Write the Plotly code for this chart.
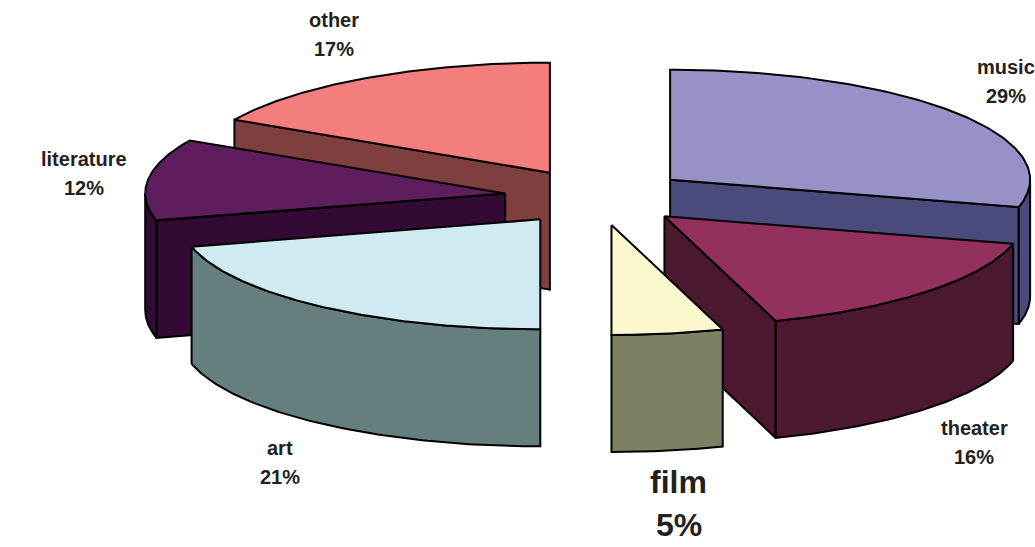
import numpy as np
import plotly.graph_objects as go

# ---- data ----
categories = ["music", "theater", "film", "art", "literature", "other"]
shares = [29, 16, 5, 21, 12, 17]

# ---- style ----
top_colors = ["#9692C8", "#93305E", "#FBF8CE", "#CFEAF0", "#5E1E5E", "#F47D7D"]
side_colors = ["#4A4A7C", "#4B1830", "#7F7F63", "#657F7F", "#330A33", "#7F3F3F"]
label_sizes = [20, 20, 32, 20, 20, 20]

W, H = 1035, 547
CX, CY = 597, 197          # pie centre on screen
RX, RY = 360, 110          # ellipse radii of the top face
DEPTH = 117                # thickness
PULL = 0.257               # explosion (fraction of radius)
LX, LY = 425, 160          # label distance
TEXT_COLOR = "#231F20"
FONT = "Liberation Sans, Arial, sans-serif"

total = float(sum(shares))
fig = go.Figure()


def poly(xs, ys, fill):
    xs = list(xs) + [xs[0]]
    ys = list(ys) + [ys[0]]
    fig.add_trace(go.Scatter(x=xs, y=ys, mode="lines", fill="toself",
                             fillcolor=fill, line=dict(color="black", width=2),
                             hoverinfo="skip", showlegend=False))


slices = []
acc = 0.0
for i, s in enumerate(shares):
    a1 = acc / total * 360.0
    acc += s
    a2 = acc / total * 360.0
    m = np.radians((a1 + a2) / 2)
    vx = CX + PULL * RX * np.sin(m)
    vy = CY - PULL * RY * np.cos(m)
    slices.append(dict(i=i, a1=a1, a2=a2, m=m, vx=vx, vy=vy))


def pt(sl, deg):
    t = np.radians(deg)
    return sl["vx"] + RX * np.sin(t), sl["vy"] - RY * np.cos(t)


# draw back to front
for sl in sorted(slices, key=lambda d: d["vy"]):
    i = sl["i"]
    a1, a2 = sl["a1"], sl["a2"]
    vx, vy = sl["vx"], sl["vy"]
    side = side_colors[i]
    # radial cut faces
    if np.sin(np.radians(a1)) < -1e-6:
        px, py = pt(sl, a1)
        poly([vx, px, px, vx], [vy, py, py + DEPTH, vy + DEPTH], side)
    if np.sin(np.radians(a2)) > 1e-6:
        px, py = pt(sl, a2)
        poly([vx, px, px, vx], [vy, py, py + DEPTH, vy + DEPTH], side)
    # outer curved side (front half only)
    lo, hi = max(a1, 90.0), min(a2, 270.0)
    if hi > lo:
        th = np.linspace(lo, hi, 80)
        xs, ys = pt(sl, th)
        poly(list(xs) + list(xs[::-1]), list(ys) + list((ys + DEPTH)[::-1]), side)
    # top face
    th = np.linspace(a1, a2, 120)
    xs, ys = pt(sl, th)
    poly([vx] + list(xs), [vy] + list(ys), top_colors[i])

# labels
for sl in slices:
    i = sl["i"]
    m = sl["m"]
    fs = label_sizes[i]
    extra = (fs - 20) * 0.3           # larger label box sits a little further out
    lx = sl["vx"] + (LX + extra) * np.sin(m)
    ly = sl["vy"] - (LY + extra) * np.cos(m) + (DEPTH if np.cos(m) < 0 else 0)
    gap = fs * 1.45 if fs <= 20 else fs * 1.35
    for txt, dy in ((categories[i], -gap / 2), (f"{shares[i]}%", gap / 2)):
        fig.add_annotation(x=lx, y=ly + dy, xref="x", yref="y", text=f"<b>{txt}</b>",
                           showarrow=False, xanchor="center", yanchor="middle",
                           font=dict(family=FONT, size=fs, color=TEXT_COLOR))

fig.update_layout(
    width=W, height=H, autosize=False,
    margin=dict(l=0, r=0, t=0, b=0),
    paper_bgcolor="white", plot_bgcolor="white",
    xaxis=dict(range=[0, W], visible=False, fixedrange=True),
    yaxis=dict(range=[H, 0], visible=False, fixedrange=True),
    showlegend=False,
)

fig.write_html("out.html")
